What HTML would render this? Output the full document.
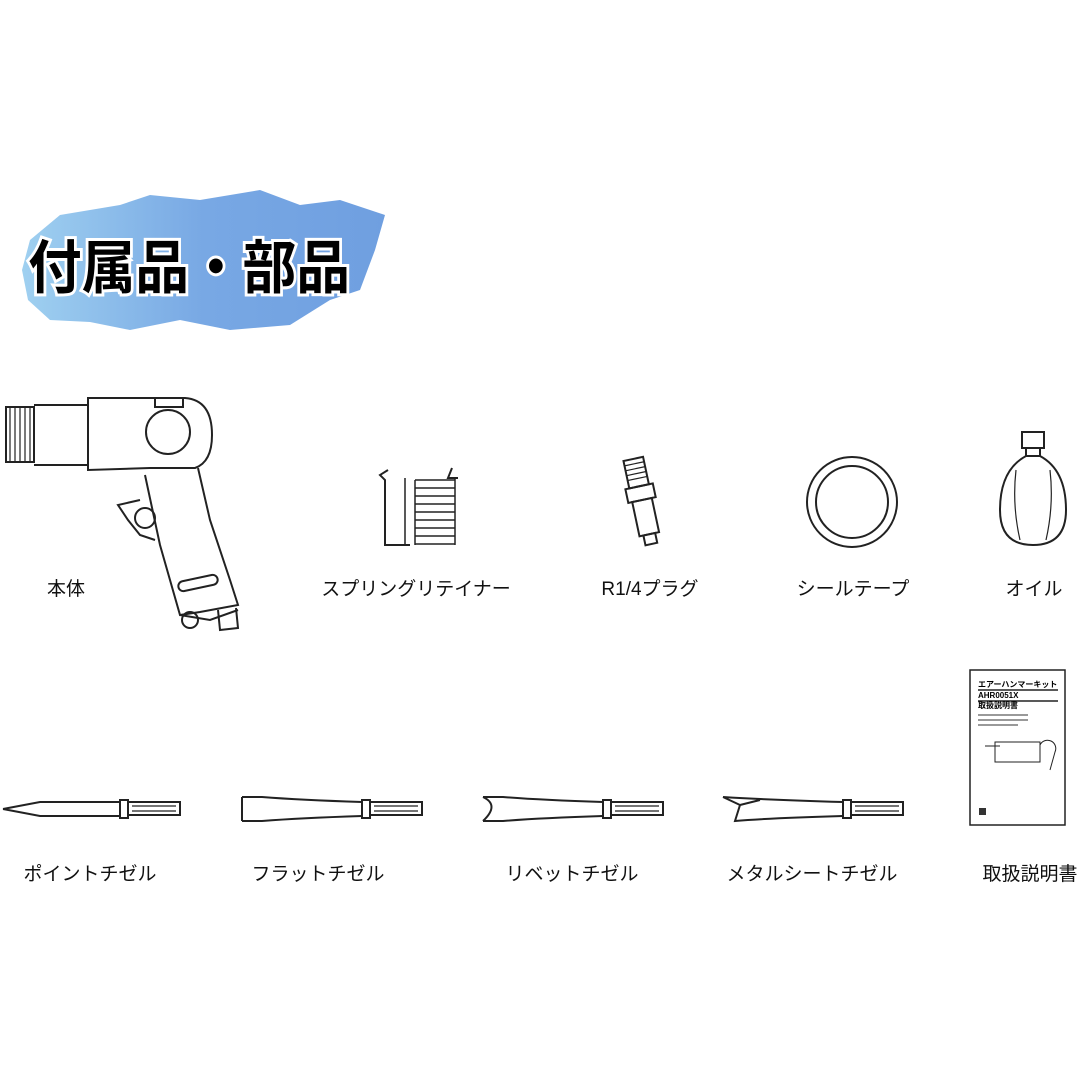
<!DOCTYPE html>
<html><head><meta charset="utf-8"><style>
body{margin:0;background:#fff}
svg{display:block}
text{font-family:"Liberation Sans","Noto Sans CJK JP",sans-serif}
</style></head><body>
<svg width="1080" height="1080" viewBox="0 0 1080 1080">
<defs><linearGradient id="g" x1="0" x2="1"><stop offset="0" stop-color="#9fd0f0"/><stop offset="0.5" stop-color="#78a8e4"/><stop offset="1" stop-color="#6f9fe0"/></linearGradient></defs>
<path d="M30 240 L60 215 L120 205 L150 195 L200 200 L260 190 L300 205 L340 200 L385 215 L375 250 L360 290 L330 300 L290 325 L230 330 L180 320 L130 330 L90 322 L50 320 L28 300 L22 270 Z" fill="url(#g)"/>
<text x="28" y="288" font-size="58" font-weight="bold" fill="#000" stroke="#fff" stroke-width="6" paint-order="stroke" textLength="322" lengthAdjust="spacingAndGlyphs">付属品・部品</text>
<g fill="none" stroke="#222" stroke-width="2">
<rect x="6" y="407" width="28" height="55"/>
<path d="M10 407v55M15 407v55M20 407v55M25 407v55M30 407v55" stroke-width="1.2"/>
<path d="M34 405 H88 V465 H34"/>
<path d="M88 398 H185 Q212 400 212 435 Q212 462 195 468 L150 468 L88 470 Z"/>
<path d="M155 398 V407 H183 V398"/>
<circle cx="168" cy="432" r="22"/>
<path d="M145 475 L160 545 L180 615 L200 612 L238 605 L230 580 L210 520 L198 468"/>
<path d="M180 615 L210 620 L238 610"/>
<rect x="178" y="578" width="40" height="10" rx="5" transform="rotate(-12 198 583)"/>
<path d="M140 500 L118 505 L128 520 L140 535 L155 540"/>
<circle cx="145" cy="518" r="10"/>
<path d="M218 610 L220 630 L238 628 L236 608"/>
<circle cx="190" cy="620" r="8"/>
<path d="M388 470 L380 475 L385 480 L385 545 L410 545"/>
<path d="M452 468 L448 478 L458 478"/>
<g stroke-width="1.5"><path d="M415 480 h40 M415 488 h40 M415 496 h40 M415 504 h40 M415 512 h40 M415 520 h40 M415 528 h40 M415 536 h40 M415 544 h40"/>
<path d="M415 480 v65 M455 478 v67 M405 478 v66"/></g>
<g transform="rotate(-12 642 500)">
<rect x="632" y="458" width="20" height="28"/><path d="M632 463h20M632 468h20M632 473h20M632 478h20" stroke-width="1.2"/>
<rect x="628" y="486" width="28" height="14"/>
<rect x="632" y="500" width="20" height="35"/>
<rect x="636" y="535" width="12" height="10"/>
</g>
<circle cx="852" cy="502" r="45"/>
<circle cx="852" cy="502" r="36"/>
<rect x="1022" y="432" width="22" height="16"/>
<rect x="1026" y="448" width="14" height="8"/>
<path d="M1026 456 Q1000 470 1000 510 Q1000 545 1033 545 Q1066 545 1066 510 Q1066 470 1040 456 Z"/>
<path d="M1016 470 Q1012 505 1020 540 M1050 470 Q1054 505 1046 540" stroke-width="1.2"/>
<g id="ch">
<path d="M120 800 H128 V818 H120 Z"/>
<path d="M128 802 H180 V815 H128"/>
<path d="M132 806 H176 M132 811 H176" stroke-width="1.2"/>
</g>
<path d="M3 809 L40 802 H120 M3 809 L40 816 H120"/>
<use href="#ch" x="242"/><path d="M242 797 H262 Q300 800 362 802 M242 821 H262 Q300 818 362 816 M242 797 V821"/>
<use href="#ch" x="483"/><path d="M483 797 Q500 805 483 821 M483 797 H503 Q540 800 603 802 M483 821 H503 Q540 818 603 816"/>
<use href="#ch" x="723"/><path d="M723 797 L740 805 L735 821 Q770 818 843 816 M723 797 Q770 800 843 802 M740 805 L760 800"/>
<rect x="970" y="670" width="95" height="155" stroke-width="1.5"/>
<path d="M978 690 H1058 M978 701 H1058" stroke-width="1.5"/>
<path d="M985 746 H1000 M995 742 H1040 V762 H995 Z M1040 745 A8 8 0 0 1 1055 752 L1050 770" stroke-width="1"/>
</g>
<g font-size="8" font-weight="bold" fill="#000"><text x="978" y="687">エアーハンマーキット</text><text x="978" y="698">AHR0051X</text><text x="978" y="708">取扱説明書</text></g>
<g fill="#999"><rect x="978" y="714" width="50" height="2"/><rect x="978" y="719" width="50" height="2"/><rect x="978" y="724" width="40" height="2"/></g>
<rect x="979" y="808" width="7" height="7" fill="#333"/>
<g font-size="19" fill="#111" text-anchor="middle">
<text x="66" y="595">本体</text>
<text x="416" y="595">スプリングリテイナー</text>
<text x="650" y="595">R1/4プラグ</text>
<text x="853" y="595">シールテープ</text>
<text x="1034" y="595">オイル</text>
<text x="90" y="880">ポイントチゼル</text>
<text x="318" y="880">フラットチゼル</text>
<text x="572" y="880">リベットチゼル</text>
<text x="812" y="880">メタルシートチゼル</text>
<text x="1030" y="880">取扱説明書</text>
</g>
</svg>
</body></html>
